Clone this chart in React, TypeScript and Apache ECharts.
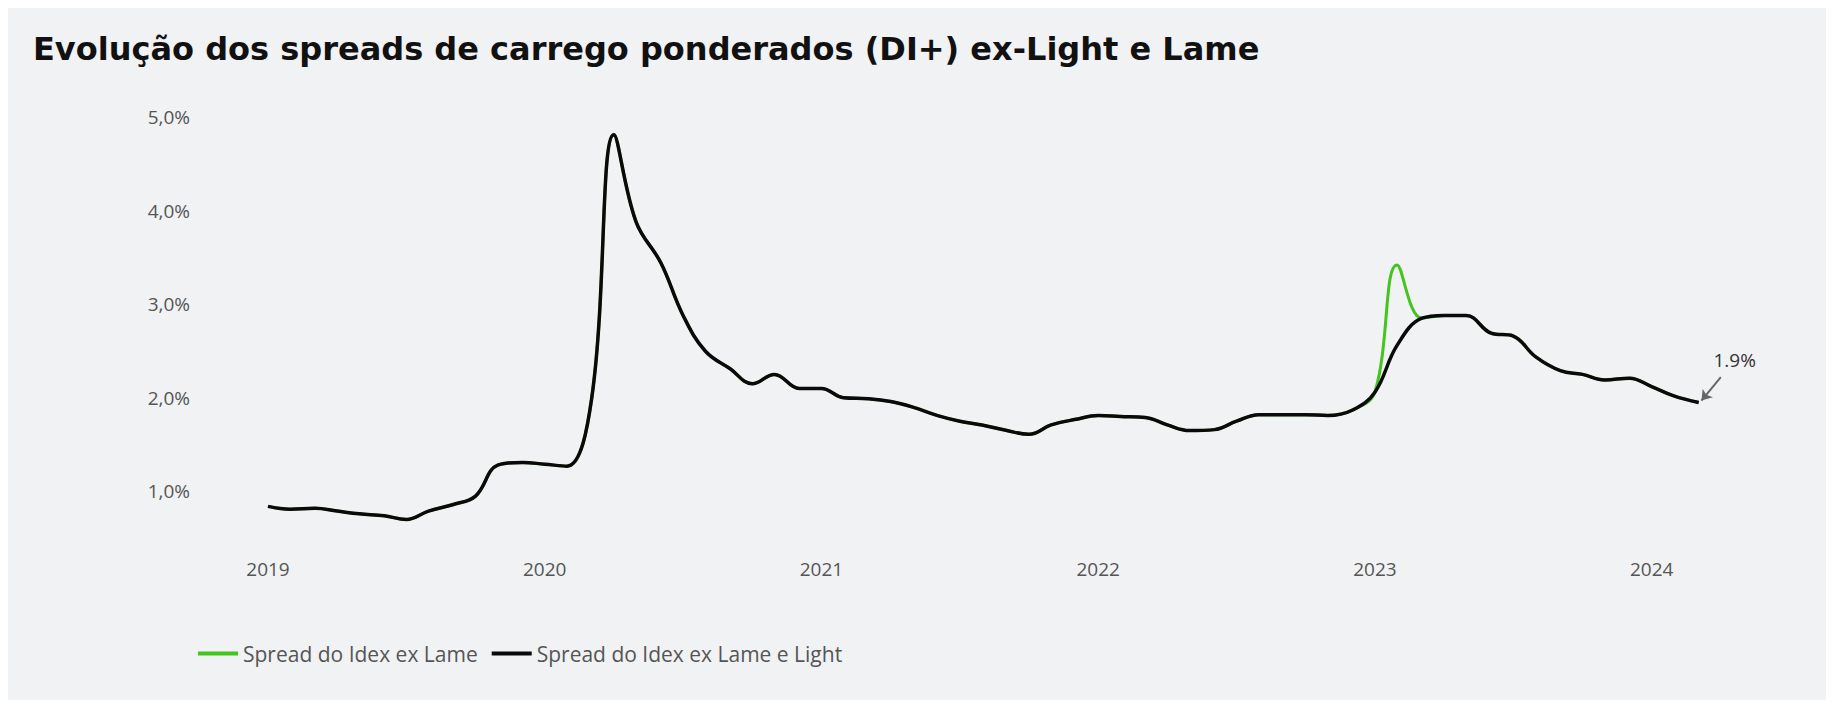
import React, { useEffect, useRef } from "react";
import * as echarts from "echarts";

const months = [
  2019.0, 2019.08, 2019.17, 2019.25, 2019.33, 2019.42, 2019.5, 2019.58, 2019.67, 2019.75, 2019.83, 2019.92,
  2020.0, 2020.08, 2020.17, 2020.25, 2020.33, 2020.42, 2020.5, 2020.58, 2020.67, 2020.75, 2020.83, 2020.92,
  2021.0, 2021.08, 2021.17, 2021.25, 2021.33, 2021.42, 2021.5, 2021.58, 2021.67, 2021.75, 2021.83, 2021.92,
  2022.0, 2022.08, 2022.17, 2022.25, 2022.33, 2022.42, 2022.5, 2022.58, 2022.67, 2022.75, 2022.83, 2022.92,
  2023.0, 2023.08, 2023.17, 2023.25, 2023.33, 2023.42, 2023.5, 2023.58, 2023.67, 2023.75, 2023.83, 2023.92,
  2024.0, 2024.08, 2024.17,
];

const exLameLight = [
  0.84, 0.81, 0.82, 0.79, 0.76, 0.74, 0.7, 0.79, 0.86, 0.95, 1.28, 1.31,
  1.29, 1.27, 2.0, 4.81, 3.88, 3.44, 2.88, 2.5, 2.31, 2.15, 2.25, 2.1,
  2.1, 2.0, 1.99, 1.96, 1.9, 1.81, 1.75, 1.71, 1.65, 1.61, 1.71, 1.77,
  1.81, 1.8, 1.79, 1.71, 1.65, 1.66, 1.75, 1.82, 1.82, 1.82, 1.81, 1.87,
  2.06, 2.56, 2.85, 2.88, 2.88, 2.69, 2.66, 2.44, 2.29, 2.25, 2.19, 2.21,
  2.12, 2.02, 1.95,
];

const exLame = exLameLight.map((v, i) => (i === 49 ? 3.42 : v));

const yearTicks = [2019, 2020, 2021, 2022, 2023, 2024];

const App = () => {
  const ref = useRef<HTMLDivElement>(null);

  useEffect(() => {
    if (!ref.current) return;
    const chart = echarts.init(ref.current, null, { renderer: "svg" });
    const txt = "#555";
    const font = "Open Sans";
    chart.setOption({
      animation: false,
      backgroundColor: "#f1f2f4",
      title: {
        text: "Evolução dos spreads de carrego ponderados (DI+) ex-Light e Lame",
        left: 20,
        top: 20,
        textStyle: { fontFamily: "DejaVu Sans", fontWeight: "bold", fontSize: 32, color: "#111" },
      },
      grid: { left: 260, right: 36, top: 109, bottom: 115 },
      xAxis: {
        type: "value",
        min: 2019,
        max: 2024.5,
        interval: 1,
        offset: -36,
        axisLine: { show: false },
        axisTick: { show: false },
        splitLine: { show: false },
        axisLabel: {
          color: txt,
          fontFamily: font,
          fontSize: 19,
          margin: 10,
          formatter: (v: number) => (yearTicks.includes(v) ? String(v) : ""),
        },
      },
      yAxis: {
        type: "value",
        min: 0,
        max: 5,
        interval: 1,
        axisLine: { show: false },
        axisTick: { show: false },
        splitLine: { show: false },
        axisLabel: {
          color: txt,
          fontFamily: font,
          fontSize: 19,
          margin: 78,
          formatter: (v: number) => (v === 0 ? "" : v.toFixed(1).replace(".", ",") + "%"),
        },
      },
      legend: {
        left: 185,
        top: 630,
        itemWidth: 40,
        itemHeight: 4,
        itemGap: 14,
        icon: "rect",
        textStyle: { color: txt, fontFamily: font, fontSize: 21 },
        data: ["Spread do Idex ex Lame", "Spread do Idex ex Lame e Light"],
      },
      series: [
        {
          name: "Spread do Idex ex Lame",
          type: "line",
          smooth: 0.4,
          symbol: "none",
          color: "#45c41d",
          lineStyle: { width: 3 },
          data: months.map((m, i) => [m, exLame[i]]),
        },
        {
          name: "Spread do Idex ex Lame e Light",
          type: "line",
          smooth: 0.4,
          symbol: "none",
          color: "#0a0a0a",
          lineStyle: { width: 3.5 },
          data: months.map((m, i) => [m, exLameLight[i]]),
          markLine: {
            silent: true,
            symbol: ["none", "arrow"],
            symbolSize: 10,
            lineStyle: { color: "#666", width: 2, type: "solid" },
            label: { show: false },
            data: [[{ coord: [2024.25, 2.22] }, { coord: [2024.18, 1.97] }]],
          },
          markPoint: {
            symbol: "circle",
            symbolSize: 1,
            itemStyle: { color: "transparent" },
            label: {
              show: true,
              formatter: "1.9%",
              color: "#333",
              fontFamily: font,
              fontSize: 19,
            },
            data: [{ coord: [2024.3, 2.4] }],
          },
        },
      ],
    });
    return () => chart.dispose();
  }, []);

  return <div ref={ref} style={{ width: 1818, height: 692 }} />;
};

export default App;
